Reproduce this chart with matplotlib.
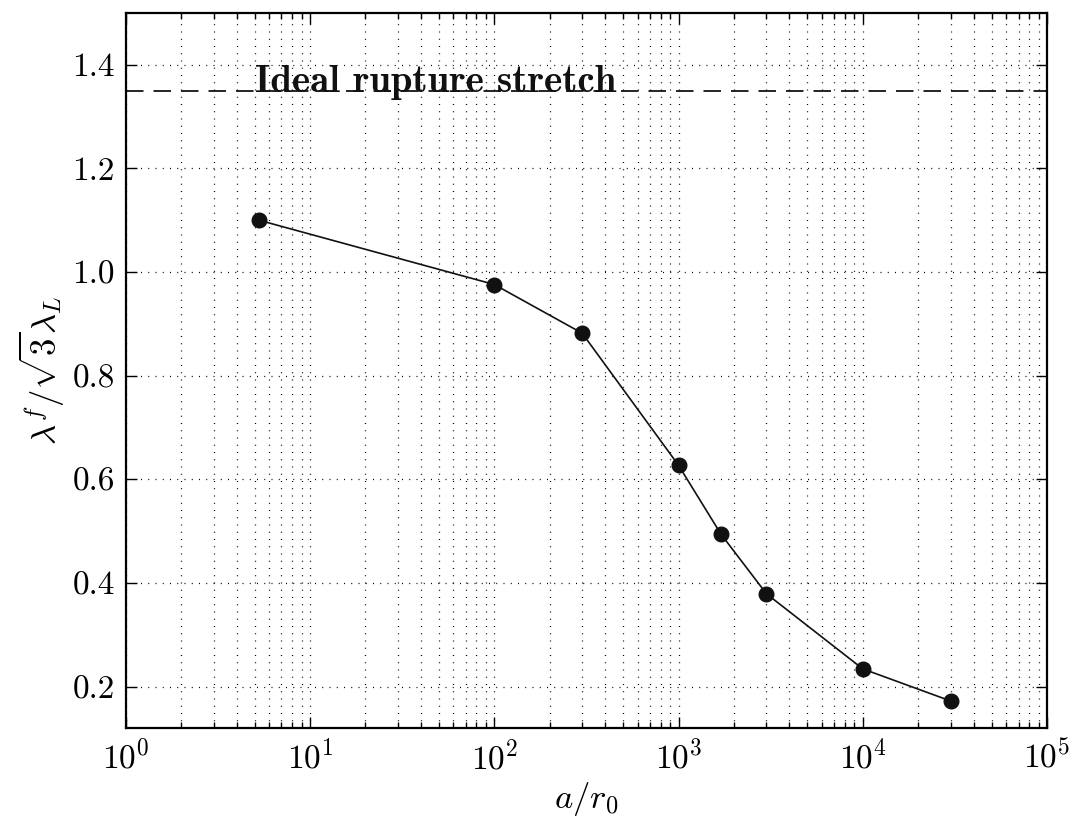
import matplotlib
matplotlib.use("Agg")
import matplotlib.pyplot as plt
from matplotlib.ticker import FixedLocator, FormatStrFormatter, LogLocator, NullFormatter

plt.rcParams['font.family'] = 'serif'
plt.rcParams['font.serif'] = ['cmr10']
plt.rcParams['mathtext.fontset'] = 'cm'
plt.rcParams['axes.formatter.use_mathtext'] = True

# data
a_over_r0 = [5.3, 100, 300, 1000, 1700, 3000, 10000, 30000]
stretch_ratio = [1.100, 0.976, 0.882, 0.627, 0.494, 0.379, 0.234, 0.172]
ideal_stretch = 1.35
y_ticks = [0.2, 0.4, 0.6, 0.8, 1.0, 1.2, 1.4]

fig = plt.figure(figsize=(10.75, 8.17), dpi=100)
ax = fig.add_axes([0.117, 0.109, 0.857, 0.875])

ax.plot(a_over_r0, stretch_ratio, color='#111111', lw=1.2, marker='o',
        markersize=10.5, markerfacecolor='#111111', markeredgecolor='#111111', zorder=3)
ax.axhline(ideal_stretch, color='black', lw=1.2, dashes=(10.5, 6))
ax.text(5.0, ideal_stretch - 0.002, 'Ideal rupture stretch', fontfamily='cmb10',
        fontsize=28, ha='left', va='baseline', color='#111111')

ax.set_xscale('log')
ax.set_xlim(1, 1e5)
ax.set_ylim(0.12, 1.5)
ax.xaxis.set_major_locator(LogLocator(base=10, numticks=10))
ax.xaxis.set_minor_locator(LogLocator(base=10, subs=range(2, 10), numticks=20))
ax.xaxis.set_minor_formatter(NullFormatter())
ax.yaxis.set_major_locator(FixedLocator(y_ticks))
ax.yaxis.set_major_formatter(FormatStrFormatter('%.1f'))

ax.grid(True, which='major', axis='both', color='black', lw=0.9, dashes=(0.8, 5))
ax.grid(True, which='minor', axis='x', color='black', lw=0.9, dashes=(0.8, 5))

ax.tick_params(which='both', direction='in', top=True, right=True, labelsize=24, width=1.0)
ax.tick_params(which='major', length=8, pad=8)
ax.tick_params(which='minor', length=4)
for s in ax.spines.values():
    s.set_linewidth(1.6)

ax.set_xlabel(r'$a/r_0$', fontsize=25, labelpad=4)
ax.set_ylabel(r'$\lambda^f/\sqrt{3}\lambda_L$', fontsize=25, labelpad=4)

fig.savefig('out.png', dpi=100)
